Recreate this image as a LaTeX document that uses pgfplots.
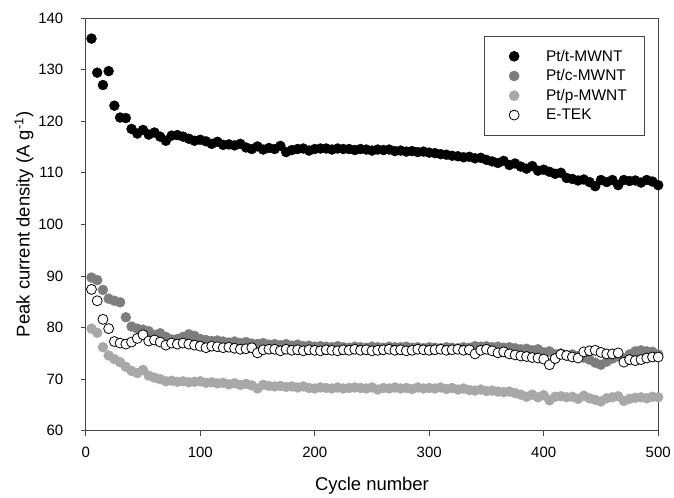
\documentclass[border=0pt]{standalone}
\usepackage{fontspec}
\setmainfont{Liberation Sans}
\usepackage{pgfplots}
\usepackage{pgfplotstable}
\pgfplotsset{compat=1.18}
\definecolor{cgray}{RGB}{125,125,125}
\definecolor{pgray}{RGB}{168,168,168}
\definecolor{axgray}{RGB}{70,70,70}
\pgfplotsset{mylegend/.style={legend image code/.code={%
  \path[draw=none, fill=none] (0pt,-4pt) rectangle (44pt,4pt);
  \draw[##1, mark repeat=2, mark phase=2] plot coordinates {(0pt,0pt) (14pt,0pt) (28pt,0pt)};}}}

\pgfplotstableread{
c v
5 136.0
10 129.4
15 127.0
20 129.7
25 123.0
30 120.7
35 120.6
40 118.5
45 117.6
50 118.3
55 117.4
60 117.8
65 117.0
70 116.2
75 117.2
80 117.3
85 117.0
90 116.6
95 116.2
100 116.4
105 116.1
110 115.6
115 116.0
120 115.4
125 115.5
130 115.3
135 115.6
140 114.9
145 114.6
150 115.1
155 114.5
160 114.8
165 114.6
170 115.2
175 114.0
180 114.4
185 114.6
190 114.7
195 114.3
200 114.6
205 114.7
210 114.7
215 114.5
220 114.7
225 114.6
230 114.6
235 114.4
240 114.6
245 114.5
250 114.3
255 114.5
260 114.4
265 114.5
270 114.2
275 114.3
280 114.1
285 114.2
290 114.0
295 114.1
300 113.9
305 113.8
310 113.6
315 113.5
320 113.3
325 113.2
330 113.0
335 113.1
340 112.8
345 112.9
350 112.5
355 112.2
360 111.9
365 112.3
370 111.5
375 111.8
380 111.2
385 110.8
390 111.3
395 110.4
400 110.6
405 110.2
410 109.8
415 110.0
420 109.0
425 108.8
430 108.5
435 108.7
440 108.2
445 107.4
450 108.6
455 108.2
460 108.6
465 107.6
470 108.6
475 108.4
480 108.5
485 108.1
490 108.6
495 108.3
500 107.6
}\tmwnt

\pgfplotstableread{
c v
5 89.7
10 89.2
15 87.3
20 85.6
25 85.2
30 84.9
35 82.0
40 80.2
45 79.8
50 79.6
55 79.3
60 78.6
65 78.9
70 78.2
75 77.7
80 77.8
85 78.2
90 78.7
95 78.4
100 77.8
105 77.6
110 77.4
115 77.5
120 77.3
125 77.1
130 77.3
135 77.0
140 77.2
145 76.9
150 76.8
155 77.0
160 76.7
165 76.8
170 76.6
175 76.8
180 76.5
185 76.7
190 76.4
195 76.5
200 76.3
205 76.4
210 76.3
215 76.2
220 76.4
225 76.2
230 76.1
235 76.3
240 76.2
245 76.1
250 76.3
255 76.2
260 76.1
265 76.3
270 76.2
275 76.2
280 76.3
285 76.1
290 76.2
295 76.0
300 76.2
305 76.1
310 76.0
315 76.2
320 76.1
325 76.0
330 76.2
335 76.1
340 76.4
345 76.3
350 76.4
355 76.2
360 76.3
365 76.1
370 76.2
375 76.0
380 75.8
385 75.9
390 75.6
395 75.8
400 75.2
405 75.4
410 74.8
415 75.0
420 74.6
425 74.8
430 74.5
435 74.2
440 73.8
445 73.2
450 72.8
455 73.4
460 74.0
465 74.4
470 74.0
475 74.8
480 75.4
485 75.6
490 75.4
495 75.3
500 74.8
}\cmwnt

\pgfplotstableread{
c v
5 79.8
10 79.0
15 76.2
20 74.6
25 73.9
30 73.3
35 72.4
40 71.6
45 71.2
50 71.8
55 70.7
60 70.3
65 70.0
70 69.6
75 69.7
80 69.5
85 69.6
90 69.4
95 69.5
100 69.6
105 69.3
110 69.4
115 69.2
120 69.3
125 69.0
130 69.2
135 68.9
140 69.1
145 68.8
150 68.2
155 68.9
160 68.7
165 68.6
170 68.7
175 68.5
180 68.6
185 68.4
190 68.6
195 68.3
200 68.2
205 68.4
210 68.3
215 68.2
220 68.4
225 68.2
230 68.3
235 68.4
240 68.3
245 68.2
250 68.4
255 68.0
260 68.3
265 68.2
270 68.4
275 68.2
280 68.3
285 68.1
290 68.4
295 68.2
300 68.3
305 68.2
310 68.4
315 68.1
320 68.3
325 68.0
330 68.2
335 67.9
340 67.8
345 68.0
350 67.7
355 67.8
360 67.6
365 67.5
370 67.6
375 67.3
380 67.0
385 66.6
390 67.0
395 66.5
400 66.9
405 65.9
410 66.6
415 66.7
420 66.5
425 66.6
430 66.2
435 66.8
440 66.3
445 66.0
450 65.7
455 66.3
460 66.5
465 66.7
470 65.8
475 66.2
480 66.4
485 66.5
490 66.3
495 66.6
500 66.5
}\pmwnt

\pgfplotstableread{
c v
5 87.4
10 85.2
15 81.6
20 79.8
25 77.3
30 77.0
35 76.8
40 77.2
45 77.9
50 78.6
55 77.4
60 77.6
65 77.2
70 76.6
75 77.0
80 76.8
85 77.0
90 76.8
95 76.6
100 76.4
105 76.1
110 76.4
115 76.3
120 76.1
125 76.2
130 76.0
135 75.8
140 75.9
145 76.1
150 75.1
155 75.7
160 75.8
165 75.8
170 75.5
175 75.8
180 75.6
185 75.7
190 75.5
195 75.7
200 75.6
205 75.5
210 75.7
215 75.6
220 75.5
225 75.7
230 75.6
235 75.8
240 75.6
245 75.7
250 75.5
255 75.6
260 75.7
265 75.8
270 75.6
275 75.7
280 75.5
285 75.6
290 75.8
295 75.7
300 75.6
305 75.7
310 75.8
315 75.6
320 75.7
325 75.8
330 75.6
335 75.7
340 74.9
345 75.6
350 75.8
355 75.5
360 75.1
365 75.3
370 74.9
375 74.7
380 74.5
385 74.4
390 74.2
395 74.1
400 73.9
405 72.8
410 74.0
415 74.8
420 74.6
425 74.3
430 74.1
435 75.3
440 75.5
445 75.6
450 75.2
455 74.9
460 74.9
465 75.1
470 73.3
475 73.8
480 73.6
485 73.8
490 74.1
495 74.3
500 74.3
}\etek

\begin{document}
\begin{tikzpicture}
\begin{axis}[
  scale only axis,
  width=574pt, height=414pt,
  xmin=0, xmax=500, ymin=60, ymax=140,
  xtick={0,100,...,500}, ytick={60,70,...,140},
  tick pos=left, tick align=outside,
  major tick length=5pt,
  axis line style={axgray, line width=0.8pt},
  tick style={axgray, line width=0.8pt},
  /pgf/number format/assume math mode=true,
  ticklabel style={font=\fontsize{15}{18}\selectfont},
  xticklabel style={yshift=-8pt},
  yticklabel style={xshift=-14pt},
  label style={font=\fontsize{18.5}{22}\selectfont},
  xlabel={Cycle number},
  ylabel={Peak current density (A g\textsuperscript{-1})},
  xlabel style={at={(axis description cs:0.5,-0.133)}, anchor=center},
  ylabel style={at={(axis description cs:-0.108,0.5)}, anchor=center},
  legend style={at={(rel axis cs:0.977,0.957)}, anchor=north east,
    draw=axgray, line width=0.6pt, font=\fontsize{15.5}{18}\selectfont,
    inner xsep=16pt, inner ysep=12pt, row sep=3pt},
  legend cell align=left,
  mark size=5pt,
]
\addplot[only marks, mark=*, mark options={draw=black, fill=black}, mylegend] table[x=c,y=v]{\tmwnt};
\addlegendentry{Pt/t-MWNT}
\addplot[only marks, mark=*, mark options={draw=cgray, fill=cgray}, mylegend] table[x=c,y=v]{\cmwnt};
\addlegendentry{Pt/c-MWNT}
\addplot[only marks, mark=*, mark options={draw=pgray, fill=pgray}, mylegend] table[x=c,y=v]{\pmwnt};
\addlegendentry{Pt/p-MWNT}
\addplot[only marks, mark=*, mark options={draw=black, fill=white, line width=0.8pt}, mylegend] table[x=c,y=v]{\etek};
\addlegendentry{E-TEK}
\end{axis}
\path (current axis.south west) ++(-86pt,-62pt) coordinate (bbA);
\path (current axis.north east) ++(14pt,18pt) coordinate (bbB);
\path (bbA) rectangle (bbB);
\end{tikzpicture}
\end{document}
